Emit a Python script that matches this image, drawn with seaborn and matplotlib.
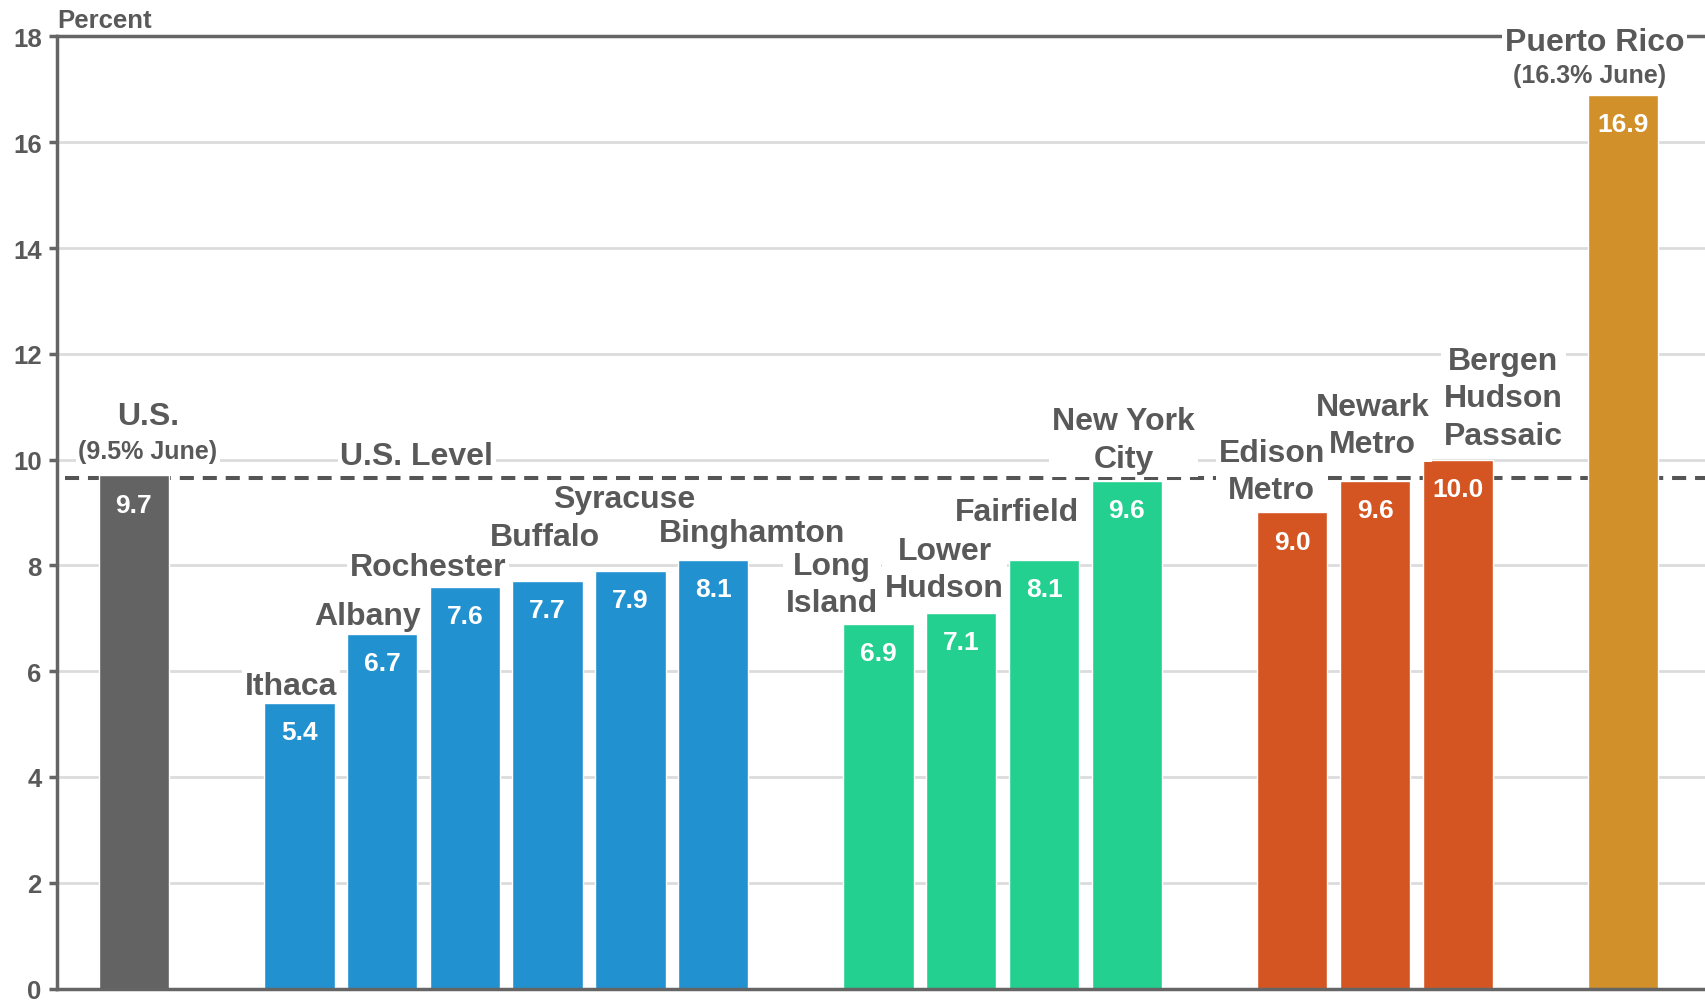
import matplotlib
matplotlib.use("Agg")
import matplotlib.pyplot as plt
import seaborn as sns
import pandas as pd

# Unemployment rates (percent) by region
regions = ["U.S.", "Ithaca", "Albany", "Rochester", "Buffalo", "Syracuse", "Binghamton",
           "Long Island", "Lower Hudson", "Fairfield", "New York City",
           "Edison Metro", "Newark Metro", "Bergen Hudson Passaic", "Puerto Rico"]
rates = [9.7, 5.4, 6.7, 7.6, 7.7, 7.9, 8.1,
         6.9, 7.1, 8.1, 9.6,
         9.0, 9.6, 10.0,
         16.9]
groups = (["nation"] + ["upstate"] * 6 + ["downstate"] * 4 + ["new_jersey"] * 3 + ["puerto_rico"])
label_text = ["U.S.", "Ithaca", "Albany", "Rochester", "Buffalo", "Syracuse", "Binghamton",
              "Long\nIsland", "Lower\nHudson", "Fairfield", "New York\nCity",
              "Edison\nMetro", "Newark\nMetro", "Bergen\nHudson\nPassaic", "Puerto Rico"]
june_notes = {"U.S.": "(9.5% June)", "Puerto Rico": "(16.3% June)"}
us_level = 9.65
y_ticks = list(range(0, 19, 2))

group_colors = {"nation": "#636363", "upstate": "#2291D0", "downstate": "#23D090",
                "new_jersey": "#D55522", "puerto_rico": "#D19029"}

# Category order with empty slots separating the regional groups
order = (["U.S.", "_gap1"] + regions[1:7] + ["_gap2"] + regions[7:11] + ["_gap3"]
         + regions[11:14] + ["_gap4", "Puerto Rico"])

df = pd.DataFrame({"region": regions, "rate": rates, "group": groups})

sns.set_style("white")
plt.rcParams["font.family"] = ["Liberation Sans", "DejaVu Sans"]
plt.rcParams["font.weight"] = "bold"

TEXT = "#595959"
AXIS = "#656565"

fig = plt.figure(figsize=(17.06, 10.04), dpi=100)
ax = fig.add_axes([0.0334, 0.0144, 0.9666, 0.9483])

sns.barplot(data=df, x="region", y="rate", hue="group", palette=group_colors,
            order=order, dodge=False, width=0.85, saturation=1, legend=False,
            ax=ax, zorder=1)

ax.set_xlim(-0.93, 19.0)
ax.set_ylim(0, 18)
ax.set_yticks(y_ticks)
ax.set_xticks([])
ax.set_xlabel("")
ax.set_ylabel("")
ax.yaxis.grid(True, color="#DCDCDC", lw=2)
ax.set_axisbelow(True)
ax.tick_params(axis="y", length=6, width=2.5, color=AXIS, labelsize=18.5,
               labelcolor=TEXT, pad=5, left=True)
for lab in ax.get_yticklabels():
    lab.set_fontweight("bold")

for side in ["left", "bottom", "top"]:
    ax.spines[side].set_visible(True)
    ax.spines[side].set_color(AXIS)
    ax.spines[side].set_linewidth(2.5)
ax.spines["right"].set_visible(False)

# U.S. reference level
ax.axhline(us_level, xmin=0.005, xmax=1, color="#555555", lw=2.9,
           linestyle=(0, (3.5, 2.2)), zorder=0.8)

box = dict(facecolor="white", edgecolor="none", pad=2)

# Region name positions: (x shift from bar centre, label centre height)
label_pos = {
    "U.S.": (0.17, 10.82), "Ithaca": (-0.1, 5.72), "Albany": (-0.18, 7.04),
    "Rochester": (-0.45, 7.97), "Buffalo": (-0.03, 8.54), "Syracuse": (-0.07, 9.25),
    "Binghamton": (0.47, 8.61), "Long Island": (-0.56, 7.64),
    "Lower Hudson": (-0.2, 7.92), "Fairfield": (-0.33, 9.0),
    "New York City": (-0.04, 10.37), "Edison Metro": (-0.25, 9.77),
    "Newark Metro": (-0.03, 10.65), "Bergen Hudson Passaic": (0.55, 11.16),
    "Puerto Rico": (-0.35, 17.9),
}
note_pos = {"U.S.": (0.17, 10.17), "Puerto Rico": (-0.41, 17.27)}
label_layer = {"Edison Metro": 3.5}

for name, text, val in zip(regions, label_text, rates):
    xi = order.index(name)
    dx, yc = label_pos[name]
    ax.text(xi + dx, yc, text, ha="center", va="center", fontsize=23,
            fontweight="bold", color=TEXT, linespacing=1.32, bbox=box,
            zorder=label_layer.get(name, 3))
    if name in june_notes:
        ndx, ny = note_pos[name]
        ax.text(xi + ndx, ny, june_notes[name], ha="center", va="center",
                fontsize=18, fontweight="bold", color=TEXT, bbox=box, zorder=3)
    ax.text(xi, val - 0.55, f"{val:.1f}", ha="center", va="center", fontsize=19,
            fontweight="bold", color="white", zorder=4)

ax.text(3.42, 10.07, "U.S. Level", ha="center", va="center", fontsize=23,
        fontweight="bold", color=TEXT, bbox=box, zorder=3)

ax.annotate("Percent", xy=(0, 1), xycoords="axes fraction", xytext=(0, 3),
            textcoords="offset points", ha="left", va="bottom", fontsize=18.5,
            fontweight="bold", color=TEXT)

fig.savefig("out.png", dpi=100)
